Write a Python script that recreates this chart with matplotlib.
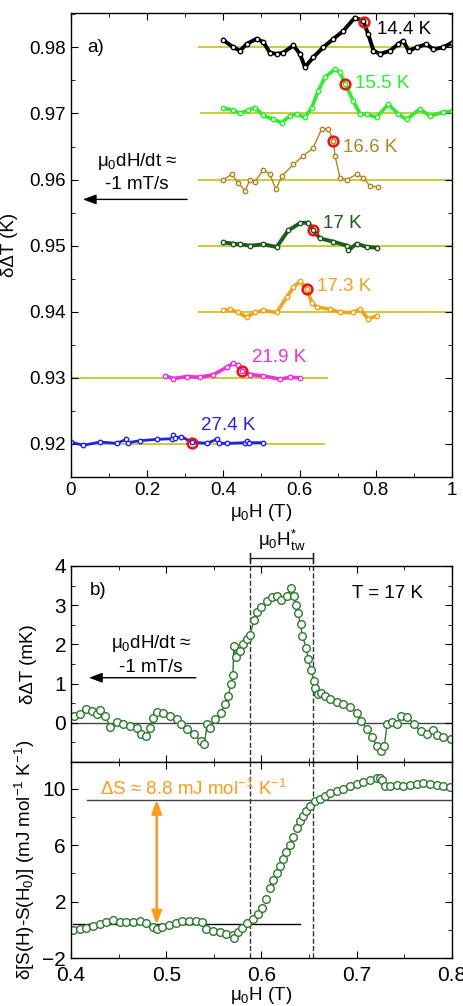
import matplotlib
matplotlib.use('Agg')
import matplotlib.pyplot as plt
from matplotlib.ticker import MultipleLocator, FuncFormatter

plt.rcParams['font.family'] = ['Liberation Sans', 'DejaVu Sans']
plt.rcParams['mathtext.fontset'] = 'custom'
plt.rcParams['mathtext.rm'] = 'Liberation Sans'
plt.rcParams['mathtext.it'] = 'Liberation Sans:italic'
plt.rcParams['axes.linewidth'] = 1.0

# ---- panel a data: field (T) and delta-Delta-T (K), one curve per temperature
x_144 = [0.40, 0.426, 0.444, 0.461, 0.487, 0.505, 0.522, 0.540, 0.557, 0.584, 0.601, 0.614, 0.636,
         0.662, 0.689, 0.715, 0.745, 0.767, 0.780, 0.794, 0.811, 0.838, 0.859, 0.872, 0.886, 0.908,
         0.933, 0.951, 0.977, 1.0]
y_144 = [0.9811, 0.9800, 0.9795, 0.9805, 0.9813, 0.9808, 0.9792, 0.9790, 0.9792, 0.9803, 0.9790, 0.9770, 0.9785,
         0.9800, 0.9813, 0.9825, 0.9845, 0.9840, 0.9820, 0.9795, 0.9790, 0.9795, 0.9805, 0.9810, 0.9795, 0.9800,
         0.9805, 0.9797, 0.9800, 0.9807]
x_155 = [0.40, 0.426, 0.444, 0.465, 0.483, 0.505, 0.531, 0.553, 0.574, 0.592, 0.614, 0.632, 0.649, 0.667,
         0.693, 0.706, 0.719, 0.741, 0.759, 0.776, 0.802, 0.833, 0.859, 0.881, 0.916, 0.942, 0.977, 1.0]
y_155 = [0.9708, 0.9705, 0.9700, 0.9705, 0.9709, 0.9697, 0.9691, 0.9686, 0.9696, 0.9699, 0.9694, 0.9709, 0.9734, 0.9755,
         0.9767, 0.9762, 0.9745, 0.9719, 0.9699, 0.9699, 0.9694, 0.9714, 0.9699, 0.9691, 0.9707, 0.9696, 0.9702, 0.9703]
x_166 = [0.40, 0.422, 0.439, 0.457, 0.470, 0.483, 0.505, 0.522, 0.538, 0.553, 0.584, 0.610, 0.636, 0.658,
         0.675, 0.689, 0.693, 0.706, 0.724, 0.750, 0.767, 0.785, 0.807]
y_166 = [0.9600, 0.9608, 0.9595, 0.9583, 0.9600, 0.9597, 0.9615, 0.9608, 0.9585, 0.9605, 0.9623, 0.9636, 0.9648, 0.9677,
         0.9677, 0.9659, 0.9636, 0.9603, 0.9600, 0.9608, 0.9603, 0.9590, 0.9589]
x_170 = [0.40, 0.426, 0.444, 0.470, 0.505, 0.540, 0.570, 0.601, 0.623, 0.636, 0.654, 0.689, 0.724, 0.728,
         0.750, 0.776, 0.802]
y_170 = [0.9505, 0.9503, 0.9502, 0.9500, 0.9502, 0.9498, 0.9523, 0.9534, 0.9535, 0.9523, 0.9511, 0.9506, 0.9500, 0.9493,
         0.9503, 0.9498, 0.9497]
x_173 = [0.40, 0.418, 0.439, 0.461, 0.483, 0.505, 0.540, 0.566, 0.584, 0.601, 0.619, 0.632, 0.645, 0.680,
         0.706, 0.741, 0.759, 0.780, 0.802]
y_173 = [0.9402, 0.9404, 0.9399, 0.9392, 0.9399, 0.9402, 0.9399, 0.9422, 0.9437, 0.9446, 0.9435, 0.9414, 0.9407, 0.9404,
         0.9399, 0.9399, 0.9404, 0.9389, 0.9394]
x_219 = [0.248, 0.269, 0.304, 0.339, 0.374, 0.409, 0.426, 0.439, 0.450, 0.470, 0.505, 0.549, 0.574, 0.601]
y_219 = [0.9303, 0.9299, 0.9302, 0.9301, 0.9305, 0.9316, 0.9322, 0.9319, 0.9311, 0.9305, 0.9303, 0.9298, 0.9301, 0.9300]
x_274 = [0.0, 0.032, 0.076, 0.120, 0.145, 0.150, 0.181, 0.225, 0.265, 0.268, 0.272, 0.290, 0.317, 0.356,
         0.383, 0.388, 0.409, 0.458, 0.462, 0.466, 0.505]
y_274 = [0.9203, 0.9198, 0.9203, 0.9201, 0.9207, 0.9202, 0.9205, 0.9207, 0.9208, 0.9214, 0.9209, 0.9211, 0.9203, 0.9201,
         0.9207, 0.9201, 0.9201, 0.9202, 0.9205, 0.9202, 0.9202]

temps = ['14.4 K', '15.5 K', '16.6 K', '17 K', '17.3 K', '21.9 K', '27.4 K']
colors = ['#000000', '#2bef2b', '#b5851f', '#1c5c1c', '#f5a21a', '#f030dc', '#2222ee']
curves_x = [x_144, x_155, x_166, x_170, x_173, x_219, x_274]
curves_y = [y_144, y_155, y_166, y_170, y_173, y_219, y_274]
baselines = [0.98, 0.97, 0.96, 0.95, 0.94, 0.93, 0.92]
base_start = [0.336, 0.34, 0.336, 0.336, 0.336, 0.0, 0.0]
base_end = [1.0, 1.0, 1.0, 1.0, 1.0, 0.671, 0.665]
# H* marks (red circles)
hstar_x = [0.769, 0.719, 0.689, 0.636, 0.619, 0.450, 0.318]
hstar_y = [0.9839, 0.9745, 0.9659, 0.9523, 0.9435, 0.9311, 0.9201]
label_x = [0.803, 0.745, 0.715, 0.661, 0.645, 0.474, 0.341]
label_y = [0.9827, 0.9745, 0.9648, 0.9533, 0.9438, 0.9331, 0.9228]
line_w = [2.8, 2.6, 1.0, 2.8, 2.6, 2.6, 2.0]

# ---- panel b data, T = 17 K
xb = [0.403, 0.409, 0.416, 0.422, 0.427, 0.430, 0.436, 0.441, 0.448, 0.455, 0.462, 0.469, 0.473, 0.479,
      0.483, 0.486, 0.490, 0.497, 0.504, 0.511, 0.516, 0.522, 0.529, 0.536, 0.540, 0.543, 0.546, 0.551,
      0.557, 0.562, 0.565, 0.568, 0.570, 0.571, 0.573, 0.577, 0.581, 0.585, 0.588, 0.592, 0.595, 0.600,
      0.606, 0.611, 0.616, 0.621, 0.627, 0.631, 0.634, 0.636, 0.638, 0.641, 0.643, 0.647, 0.649, 0.652,
      0.655, 0.656, 0.659, 0.662, 0.667, 0.672, 0.679, 0.686, 0.693, 0.700, 0.705, 0.711, 0.716, 0.721,
      0.726, 0.729, 0.732, 0.737, 0.742, 0.746, 0.753, 0.760, 0.767, 0.774, 0.780, 0.784, 0.791, 0.799]
dT_b = [0.18, 0.22, 0.36, 0.31, 0.22, 0.32, 0.18, -0.10, 0.03, -0.03, -0.08, -0.12, -0.29, -0.33,
        -0.12, 0.12, 0.28, 0.26, 0.18, 0.09, -0.03, -0.16, -0.29, -0.46, -0.54, -0.02, -0.12, 0.09,
        0.26, 0.49, 0.69, 0.98, 1.21, 1.96, 1.68, 1.83, 2.00, 2.13, 2.25, 2.61, 2.83, 2.95,
        3.10, 3.20, 3.23, 3.14, 3.23, 3.44, 3.23, 3.00, 2.81, 2.51, 2.21, 1.92, 1.62, 1.36,
        1.07, 0.88, 0.73, 0.75, 0.69, 0.60, 0.52, 0.47, 0.41, 0.26, 0.05, -0.16, -0.37, -0.58,
        -0.73, -0.58, -0.03, 0.01, -0.03, 0.18, 0.14, -0.02, -0.22, -0.29, -0.19, -0.31, -0.37, -0.42]
xs = [0.402, 0.409, 0.416, 0.423, 0.430, 0.437, 0.444, 0.451, 0.458, 0.465, 0.472, 0.479, 0.486, 0.490,
      0.496, 0.503, 0.510, 0.517, 0.524, 0.531, 0.538, 0.542, 0.549, 0.556, 0.563, 0.570, 0.571, 0.575,
      0.580, 0.585, 0.591, 0.596, 0.601, 0.605, 0.609, 0.612, 0.616, 0.619, 0.623, 0.626, 0.630, 0.633,
      0.637, 0.640, 0.644, 0.647, 0.651, 0.656, 0.661, 0.667, 0.672, 0.679, 0.686, 0.693, 0.700, 0.707,
      0.714, 0.721, 0.724, 0.727, 0.730, 0.735, 0.742, 0.749, 0.756, 0.763, 0.770, 0.777, 0.784, 0.791,
      0.798]
dS_b = [0.02, 0.07, 0.14, 0.24, 0.38, 0.55, 0.67, 0.55, 0.55, 0.55, 0.62, 0.50, 0.19, 0.07,
        0.19, 0.31, 0.48, 0.60, 0.62, 0.62, 0.55, 0.07, -0.05, -0.17, -0.29, -0.40, -0.60, -0.17,
        0.12, 0.48, 0.79, 1.14, 1.55, 2.20, 3.00, 3.50, 4.00, 4.50, 5.00, 5.55, 6.05, 6.60,
        7.21, 7.69, 8.09, 8.40, 8.76, 9.11, 9.29, 9.52, 9.71, 9.83, 10.00, 10.19, 10.31, 10.47,
        10.61, 10.76, 10.79, 10.61, 10.19, 10.19, 10.24, 10.19, 10.29, 10.36, 10.38, 10.31, 10.26, 10.19,
        10.11]
h_tw = [0.588, 0.654]
dS_low, dS_high = 0.38, 9.21

fs = 13.5
fig = plt.figure(figsize=(4.63, 10.06), dpi=100)


def style_ticks(ax, size):
    ax.tick_params(which='both', direction='in', top=True, right=True, labelsize=size)
    ax.tick_params(which='major', length=5)
    ax.tick_params(which='minor', length=3)


# ---------------- panel a
ax = fig.add_axes([0.1533, 0.5258, 0.8229, 0.4613])
for i in range(len(temps)):
    ax.plot([base_start[i], base_end[i]], [baselines[i], baselines[i]], color='#cccc44', lw=1.5, zorder=1)
    ax.plot(curves_x[i], curves_y[i], '-', color=colors[i], lw=line_w[i], zorder=2)
    ax.plot(curves_x[i], curves_y[i], 'o', ms=3.2, mfc='white', mec=colors[i], mew=1.0, zorder=2)
    ax.plot(hstar_x[i], hstar_y[i], 'o', ms=7, mfc='none', mec='#ee1111', mew=1.8, zorder=3)
    ax.text(label_x[i], label_y[i], temps[i], color=colors[i], fontsize=fs, va='center', ha='left')
ax.set_xlim(0, 1)
ax.set_ylim(0.915, 0.9852)
ax.xaxis.set_major_locator(MultipleLocator(0.2))
ax.xaxis.set_minor_locator(MultipleLocator(0.1))
ax.yaxis.set_major_locator(MultipleLocator(0.01))
ax.yaxis.set_minor_locator(MultipleLocator(0.005))
ax.xaxis.set_major_formatter(FuncFormatter(lambda v, p: f'{v:g}'))
style_ticks(ax, fs)
ax.set_xlabel('μ$_0$H (T)', fontsize=fs, labelpad=2)
ax.set_ylabel('δΔT (K)', fontsize=fs)
ax.yaxis.set_label_coords(-0.14, 0.5)
ax.text(0.042, 0.98, 'a)', fontsize=fs, va='center')
ax.text(0.173, 0.9627, 'μ$_0$dH/dt ≈', fontsize=fs, ha='center', va='center')
ax.text(0.173, 0.9593, '-1 mT/s', fontsize=fs, ha='center', va='center')
ax.annotate('', xy=(0.024, 0.957), xytext=(0.312, 0.957),
            arrowprops=dict(arrowstyle='-|>,head_length=0.8,head_width=0.3', color='black', lw=1.0))

# ---------------- panel b, upper
green = '#2d7a2d'
bu = fig.add_axes([0.1533, 0.2425, 0.8229, 0.1949])
bu.axhline(0, color='#444444', lw=1.0, zorder=1)
bu.plot(xb, dT_b, '-o', color=green, lw=1.0, ms=5.5, mfc='white', mec=green, mew=1.0, zorder=2)
bu.set_xlim(0.4, 0.8)
bu.set_ylim(-1, 4)
bu.xaxis.set_major_locator(MultipleLocator(0.1))
bu.xaxis.set_minor_locator(MultipleLocator(0.05))
bu.yaxis.set_major_locator(MultipleLocator(1))
bu.yaxis.set_minor_locator(MultipleLocator(0.5))
bu.yaxis.set_major_formatter(FuncFormatter(lambda v, p: '' if v < 0 else f'{v:g}'))
style_ticks(bu, 15)
bu.tick_params(labelbottom=False)
bu.set_ylabel('δΔT (mK)', fontsize=fs)
bu.yaxis.set_label_coords(-0.09, 0.5)
bu.text(0.42, 3.38, 'b)', fontsize=fs, va='center')
bu.text(0.695, 3.3, 'T = 17 K', fontsize=fs, va='center')
bu.text(0.484, 2.03, 'μ$_0$dH/dt ≈', fontsize=fs, ha='center', va='center')
bu.text(0.484, 1.4, '-1 mT/s', fontsize=fs, ha='center', va='center')
bu.annotate('', xy=(0.416, 1.15), xytext=(0.534, 1.15),
            arrowprops=dict(arrowstyle='-|>,head_length=0.8,head_width=0.3', color='black', lw=1.0))
for h in h_tw:
    bu.plot([h, h], [-1, 4.33], ls='--', color='#333333', lw=1.0, clip_on=False, zorder=1)
    bu.plot([h, h], [4.08, 4.33], color='#222222', lw=1.0, clip_on=False)
bu.plot(h_tw, [4.2, 4.2], color='#222222', lw=1.0, clip_on=False)
bu.text(sum(h_tw) / 2, 4.66, r'μ$_0\mathrm{H}^{*}_{\mathrm{tw}}$', fontsize=fs, ha='center', va='center')

# ---------------- panel b, lower
bl = fig.add_axes([0.1533, 0.0477, 0.8229, 0.1948])
bl.plot(xs, dS_b, 'o', color=green, ms=5.5, mfc='white', mec=green, mew=1.0, zorder=2)
bl.plot([0.417, 0.8], [dS_high, dS_high], color='#444444', lw=1.0, zorder=1)
bl.plot([0.402, 0.64], [dS_low, dS_low], color='black', lw=1.0, zorder=1)
for h in h_tw:
    bl.axvline(h, ls='--', color='#333333', lw=1.0, zorder=1)
bl.annotate('', xy=(0.490, dS_low), xytext=(0.490, dS_high),
            arrowprops=dict(arrowstyle='<|-|>,head_length=0.8,head_width=0.3', color='#ff9a1a', lw=1.8,
                            shrinkA=0, shrinkB=0))
bl.text(0.430, 10.0, 'ΔS ≈ 8.8 mJ mol$^{-1}$ K$^{-1}$', color='#ff9a1a', fontsize=fs, va='center')
bl.set_xlim(0.4, 0.8)
bl.set_ylim(-2, 11.9)
bl.xaxis.set_major_locator(MultipleLocator(0.1))
bl.xaxis.set_minor_locator(MultipleLocator(0.05))
bl.set_yticks([-2, 2, 6, 10])
bl.yaxis.set_minor_locator(MultipleLocator(2))
style_ticks(bl, 15)
bl.tick_params(axis='x', pad=6)
bl.set_xlabel('μ$_0$H (T)', fontsize=fs, labelpad=0)
bl.set_ylabel('δ[S(H)-S(H$_0$)] (mJ mol$^{-1}$ K$^{-1}$)', fontsize=fs)
bl.yaxis.set_label_coords(-0.09, 0.5)

fig.savefig('out.png', dpi=100)
